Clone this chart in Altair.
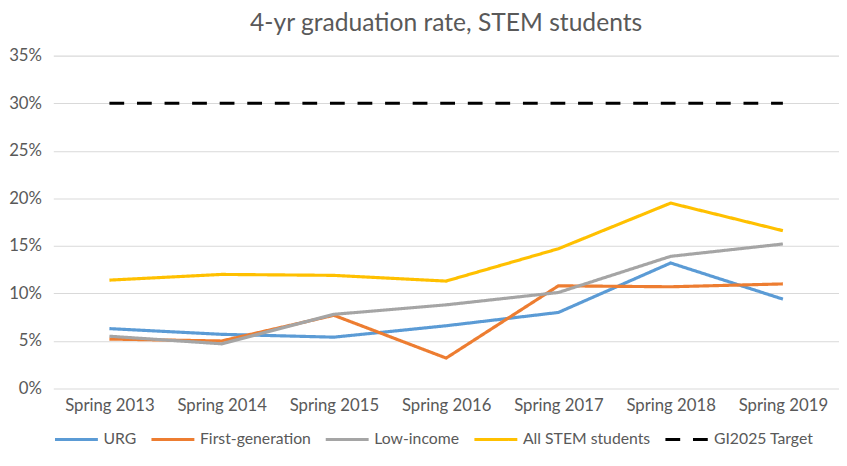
import altair as alt
import pandas as pd

years = ["Spring 2013", "Spring 2014", "Spring 2015", "Spring 2016",
         "Spring 2017", "Spring 2018", "Spring 2019"]
series_names = ["URG", "First-generation", "Low-income", "All STEM students", "GI2025 Target"]
urg = [6.3, 5.7, 5.4, 6.6, 8.0, 13.2, 9.4]
first_gen = [5.2, 5.0, 7.7, 3.2, 10.8, 10.7, 11.0]
low_income = [5.5, 4.7, 7.8, 8.8, 10.1, 13.9, 15.2]
all_stem = [11.4, 12.0, 11.9, 11.3, 14.7, 19.5, 16.6]
gi2025_target = [30, 30, 30, 30, 30, 30, 30]
colors = ["#5B9BD5", "#ED7D31", "#A5A5A5", "#FFC000", "#000000"]

rows = []
for name, vals in zip(series_names, [urg, first_gen, low_income, all_stem, gi2025_target]):
    for i, (yr, v) in enumerate(zip(years, vals)):
        rows.append({"year": yr, "series": name, "rate": v / 100.0,
                     "order": series_names.index(name)})
df = pd.DataFrame(rows)

FONT = "Lato"
GREY = "#595959"

legend = alt.Legend(title=None, orient="bottom", direction="horizontal",
                    symbolType="stroke", symbolSize=1900,
                    symbolStrokeWidth=3.2, labelFontSize=16,
                    labelColor=GREY, labelFont=FONT, labelOffset=4,
                    columnPadding=8, offset=3)

chart = alt.Chart(df).mark_line(strokeWidth=3.2).encode(
    x=alt.X("year:N", sort=years, title=None,
            scale=alt.Scale(type="point", padding=0.5),
            axis=alt.Axis(labelAngle=0, domain=False, ticks=False, labelPadding=9,
                          labelFontSize=17, labelColor=GREY, labelFont=FONT)),
    y=alt.Y("rate:Q", title=None,
            scale=alt.Scale(domain=[0, 0.35], nice=False),
            axis=alt.Axis(format=".0%", values=[0, 0.05, 0.1, 0.15, 0.2, 0.25, 0.3, 0.35],
                          domain=False, ticks=False, labelPadding=12,
                          labelFontSize=17, labelColor=GREY, labelFont=FONT,
                          gridColor="#D9D9D9", gridWidth=1.2)),
    color=alt.Color("series:N", sort=series_names,
                    scale=alt.Scale(domain=series_names, range=colors),
                    legend=legend),
    strokeDash=alt.StrokeDash("series:N", sort=series_names,
                              scale=alt.Scale(domain=series_names,
                                              range=[[1, 0], [1, 0], [1, 0], [1, 0], [15, 13]]),
                              legend=legend),
    order=alt.Order("order:Q"),
).properties(
    width=798,
    height=338,
    padding={"left": 0, "top": 0, "right": 0, "bottom": 0},
    title=alt.TitleParams("4-yr graduation rate, STEM students", fontSize=25,
                          fontWeight="normal", color=GREY, font=FONT, offset=11,
                          anchor="middle"),
).configure_view(stroke=None)

chart.save("out.html", embed_options={"renderer": "svg", "actions": False})
